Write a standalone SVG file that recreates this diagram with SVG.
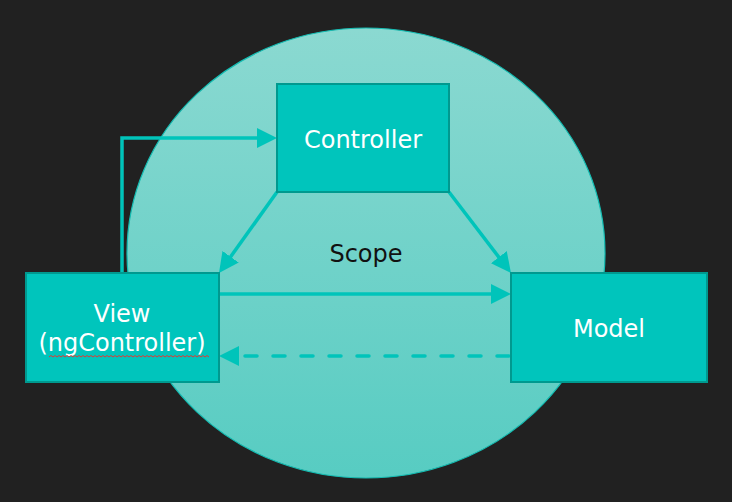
<svg xmlns="http://www.w3.org/2000/svg" width="732" height="502" viewBox="0 0 732 502">
  <defs>
    <linearGradient id="scopeGrad" x1="0" y1="0" x2="0" y2="1">
      <stop offset="0" stop-color="#8BD9D1"/>
      <stop offset="1" stop-color="#57CCC2"/>
    </linearGradient>
    <marker id="arrow" markerUnits="userSpaceOnUse" markerWidth="20" markerHeight="20" refX="10" refY="10" orient="auto" viewBox="0 0 20 20">
      <path d="M0,0 L20,10 L0,20 Z" fill="#00C4BA"/>
    </marker>
    <style>
      .box { fill: #00C5BC; stroke: #00998F; stroke-width: 2; }
      .label { font-family: "DejaVu Sans", "Liberation Sans", sans-serif; font-size: 24px; fill: #FFFFFF; text-anchor: middle; }
      .conn { fill: none; stroke: #00C4BA; stroke-width: 3.5; }
      .dashed { stroke-dasharray: 12 16; stroke-linecap: round; }
    </style>
  </defs>

  <rect x="0" y="0" width="732" height="502" fill="#212121"/>

  <g id="scope">
    <ellipse cx="366" cy="253" rx="239" ry="225" fill="url(#scopeGrad)" stroke="#14BDB3" stroke-width="1.2"/>
    <text x="366" y="262" style="font-family:'DejaVu Sans','Liberation Sans',sans-serif;font-size:24px;fill:#111111;text-anchor:middle">Scope</text>
  </g>

  <g id="connectors">
    <path class="conn" d="M122,273 V138 H267" marker-end="url(#arrow)"/>
    <path class="conn" d="M277,192 L224.8,264.9" marker-end="url(#arrow)"/>
    <path class="conn" d="M449,192 L504.9,265.1" marker-end="url(#arrow)"/>
    <path class="conn" d="M219,294 H501" marker-end="url(#arrow)"/>
    <path class="conn dashed" d="M509,356 H229" marker-end="url(#arrow)"/>
  </g>

  <g id="controller">
    <rect class="box" x="277" y="84" width="172" height="108"/>
    <text class="label" x="363" y="148">Controller</text>
  </g>

  <g id="view">
    <rect class="box" x="26" y="273" width="193" height="109"/>
    <text class="label" x="122" y="322">View</text>
    <text class="label" x="122" y="351">(ngController)</text>
    <path d="M49,357 l2,-1.5 l2,1.5 l2,-1.5 l2,1.5 l2,-1.5 l2,1.5 l2,-1.5 l2,1.5 l2,-1.5 l2,1.5 l2,-1.5 l2,1.5 l2,-1.5 l2,1.5 l2,-1.5 l2,1.5 l2,-1.5 l2,1.5 l2,-1.5 l2,1.5 l2,-1.5 l2,1.5 l2,-1.5 l2,1.5 l2,-1.5 l2,1.5 l2,-1.5 l2,1.5 l2,-1.5 l2,1.5 l2,-1.5 l2,1.5 l2,-1.5 l2,1.5 l2,-1.5 l2,1.5 l2,-1.5 l2,1.5 l2,-1.5 l2,1.5 l2,-1.5 l2,1.5 l2,-1.5 l2,1.5 l2,-1.5 l2,1.5 l2,-1.5 l2,1.5 l2,-1.5 l2,1.5 l2,-1.5 l2,1.5 l2,-1.5 l2,1.5 l2,-1.5 l2,1.5 l2,-1.5 l2,1.5 l2,-1.5 l2,1.5 l2,-1.5 l2,1.5 l2,-1.5 l2,1.5 l2,-1.5 l2,1.5 l2,-1.5 l2,1.5 l2,-1.5 l2,1.5 l2,-1.5 l2,1.5 l2,-1.5 l2,1.5 l2,-1.5 l2,1.5 l2,-1.5 l2,1.5 l2,-1.5 l2,1.5" fill="none" stroke="#E03A34" stroke-width="1"/>
  </g>

  <g id="model">
    <rect class="box" x="511" y="273" width="196" height="109"/>
    <text class="label" x="609" y="337">Model</text>
  </g>
</svg>
